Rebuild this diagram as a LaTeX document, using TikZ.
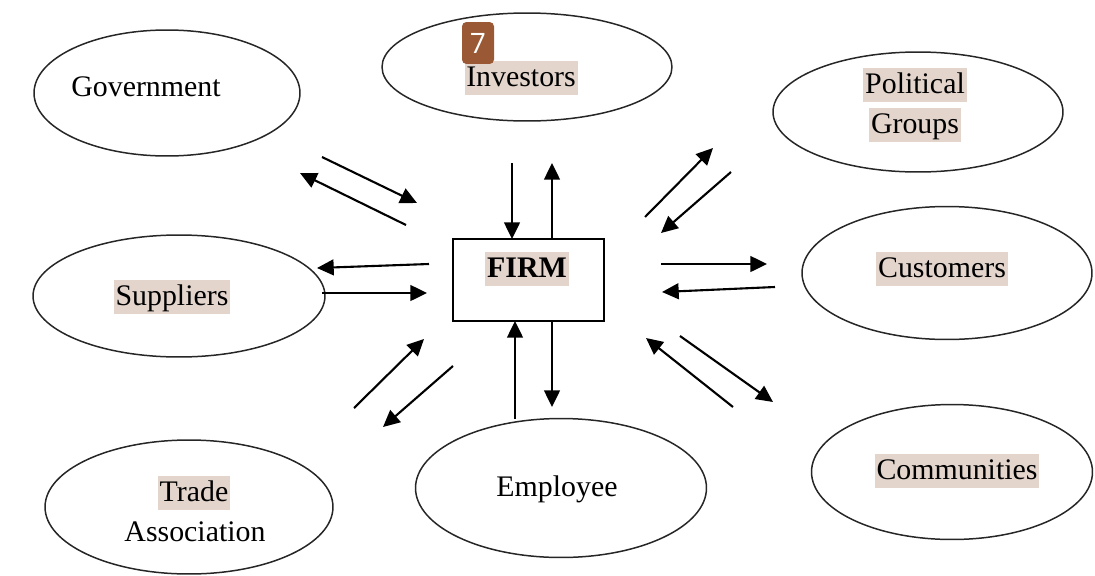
\documentclass[tikz,border=0pt]{standalone}
\usepackage{fontspec}
\setmainfont{Liberation Serif}
\newfontfamily\badgefont{Open Sans}
\usetikzlibrary{arrows.meta,shapes.geometric}
\definecolor{markbg}{RGB}{227,213,204}
\definecolor{badgebrown}{RGB}{154,88,52}
\tikzset{
    party/.style = {
        ellipse,
        draw=black!85,
        line width=0.85pt,
        inner sep=0pt,
        outer sep=0mm
    },
    firmbox/.style = {
        rectangle,
        draw=black,
        line width=1.1pt,
        minimum width=3.02cm,
        minimum height=1.64cm,
        inner sep=0pt,
        outer sep=0mm
    },
    partytext/.style = {
        font=\fontsize{17}{20}\selectfont,
        inner sep=1pt,
        text height=13.6pt,
        text depth=3.4pt
    },
    marked/.style = {
        partytext,
        fill=markbg
    },
    flow/.style = {
        line width=1.2pt,
        -{Triangle[length=9.5pt,width=9pt]}
    }
}

\begin{document}
\begin{tikzpicture}[x=0.02cm,y=-0.02cm]
    \useasboundingbox (0,0) rectangle (1095,575);
    % stakeholders
    \node [party, minimum width=5.32cm, minimum height=2.52cm] (gov) at (167,93) {};
    \node [party, minimum width=5.8cm, minimum height=2.16cm] (inv) at (527,67) {};
    \node [party, minimum width=5.8cm, minimum height=2.4cm] (pol) at (918,112) {};
    \node [party, minimum width=5.84cm, minimum height=2.44cm] (sup) at (179,296) {};
    \node [party, minimum width=5.8cm, minimum height=2.66cm] (cust) at (947,273) {};
    \node [party, minimum width=5.76cm, minimum height=2.68cm] (trade) at (189,507) {};
    \node [party, minimum width=5.82cm, minimum height=2.78cm] (emp) at (561,488) {};
    \node [party, minimum width=5.62cm, minimum height=2.7cm] (comm) at (952,472) {};
    \node [firmbox] (firm) at (528.5,280) {};

    % labels
    \node [partytext] (govtext) at (146,88) {Government};
    \node [marked] (invtext) at (521,78) {Investors};
    \node [marked] (poltext) at (915,85) {Political};
    \node [marked] (poltext2) at (915,125) {Groups};
    \node [marked] (suptext) at (172,297) {Suppliers};
    \node [marked] (custtext) at (942,269) {Customers};
    \node [marked] (tradetext) at (194,493) {Trade};
    \node [partytext] (tradetext2) at (195,533) {Association};
    \node [partytext] (emptext) at (557,488) {Employee};
    \node [marked] (commtext) at (957,471) {Communities};
    \node [marked, font=\fontsize{17}{20}\selectfont\bfseries] (firmtext) at (527,269) {FIRM};

    % badge
    \node [fill=badgebrown, rounded corners=2.5pt, minimum width=0.64cm, minimum height=0.84cm,
           inner sep=0pt, text=white, font=\badgefont\fontsize{16}{16}\selectfont] (badge) at (478,43) {7};

    % arrow ends
    \coordinate (invin) at (512,163);
    \coordinate (invout) at (552,163);
    \coordinate (empin) at (515,419);
    \coordinate (empout) at (552,407);
    \coordinate (gov1) at (322,157);
    \coordinate (gov2) at (417,203);
    \coordinate (gov3) at (406,225);
    \coordinate (gov4) at (300,173);
    \coordinate (sup1) at (429,264);
    \coordinate (sup2) at (317,268);
    \coordinate (sup3) at (322,293);
    \coordinate (sup4) at (427,293);
    \coordinate (trade1) at (354,408);
    \coordinate (trade2) at (424,339);
    \coordinate (trade3) at (453,366);
    \coordinate (trade4) at (383,427);
    \coordinate (pol1) at (645,217);
    \coordinate (pol2) at (713,148);
    \coordinate (pol3) at (731,172);
    \coordinate (pol4) at (661,233);
    \coordinate (cust1) at (661,264);
    \coordinate (cust2) at (767,264);
    \coordinate (cust3) at (775,287);
    \coordinate (cust4) at (662,292);
    \coordinate (comm1) at (733,407);
    \coordinate (comm2) at (646,338);
    \coordinate (comm3) at (680,336);
    \coordinate (comm4) at (773,402);

    % flows
    \draw [flow] (invin) -- (invin |- firm.north);
    \draw [flow] (invout |- firm.north) -- (invout);
    \draw [flow] (empin) -- (empin |- firm.south);
    \draw [flow] (empout |- firm.south) -- (empout);
    \draw [flow] (gov1) -- (gov2);
    \draw [flow] (gov3) -- (gov4);
    \draw [flow] (sup1) -- (sup2);
    \draw [flow] (sup3) -- (sup4);
    \draw [flow] (trade1) -- (trade2);
    \draw [flow] (trade3) -- (trade4);
    \draw [flow] (pol1) -- (pol2);
    \draw [flow] (pol3) -- (pol4);
    \draw [flow] (cust1) -- (cust2);
    \draw [flow] (cust3) -- (cust4);
    \draw [flow] (comm1) -- (comm2);
    \draw [flow] (comm3) -- (comm4);
\end{tikzpicture}
\end{document}
